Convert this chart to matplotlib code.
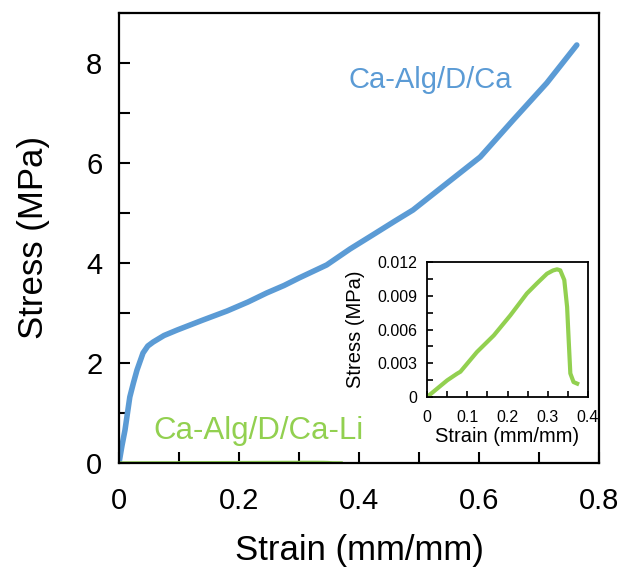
import numpy as np
import matplotlib.pyplot as plt
from matplotlib.ticker import MultipleLocator, FuncFormatter

plt.rcParams['font.family'] = ['Liberation Sans', 'DejaVu Sans']

# Ca-Alg/D/Ca (blue) stress-strain readings
strain_ca = [0.0, 0.005, 0.01, 0.018, 0.024, 0.03, 0.04, 0.048, 0.057, 0.075, 0.097, 0.14,
             0.18, 0.215, 0.246, 0.275, 0.30, 0.346, 0.385, 0.424, 0.46, 0.49, 0.547,
             0.602, 0.657, 0.713, 0.763]
stress_ca = [0.0, 0.35, 0.66, 1.32, 1.6, 1.86, 2.2, 2.34, 2.42, 2.55, 2.66, 2.86,
             3.04, 3.22, 3.4, 3.55, 3.7, 3.96, 4.28, 4.57, 4.84, 5.06, 5.6,
             6.12, 6.86, 7.6, 8.36]

# Ca-Alg/D/Ca-Li (green) stress-strain readings
strain_li = [0.0, 0.05, 0.0745, 0.083, 0.124, 0.166, 0.207, 0.248, 0.273, 0.298, 0.313,
             0.323, 0.331, 0.341, 0.348, 0.352, 0.356, 0.364, 0.373]
stress_li = [0.0, 0.00148, 0.00207, 0.00225, 0.0040, 0.00548, 0.00726, 0.0092, 0.0101,
             0.01096, 0.01125, 0.01135, 0.01126, 0.0104, 0.0080, 0.0050, 0.0021,
             0.00133, 0.00119]

blue = '#5B9BD5'
green = '#92D050'

fig = plt.figure(figsize=(6.3, 5.67), dpi=100)
ax = fig.add_axes([0.1889, 0.1834, 0.7619, 0.7937])
ax.plot(strain_ca, stress_ca, color=blue, lw=4, solid_capstyle='round', solid_joinstyle='round')
ax.plot(strain_li, stress_li, color=green, lw=2.5, solid_capstyle='butt')
ax.set_xlim(0, 0.8)
ax.set_ylim(0, 9)
ax.xaxis.set_major_locator(MultipleLocator(0.1))
ax.yaxis.set_major_locator(MultipleLocator(1))
ax.xaxis.set_major_formatter(FuncFormatter(
    lambda v, p: ('0' if abs(v) < 1e-9 else f'{v:.1f}') if round(v * 10) % 2 == 0 else ''))
ax.yaxis.set_major_formatter(FuncFormatter(
    lambda v, p: f'{int(round(v))}' if round(v) % 2 == 0 and v < 8.5 else ''))
ax.tick_params(direction='in', length=8, width=1.5, labelsize=21, color='black')
ax.tick_params(axis='x', pad=17)
ax.tick_params(axis='y', pad=12)
for s in ax.spines.values():
    s.set_linewidth(1.6)
ax.set_xlabel('Strain (mm/mm)', fontsize=25, labelpad=14)
ax.set_ylabel('Stress (MPa)', fontsize=25, labelpad=26)
ax.text(0.383, 7.65, 'Ca-Alg/D/Ca', color=blue, fontsize=21, va='center', ha='left')
ax.text(0.057, 0.64, 'Ca-Alg/D/Ca-Li', color=green, fontsize=22.5, va='center', ha='left')

ins = fig.add_axes([0.6778, 0.2998, 0.2556, 0.2381])
ins.plot(strain_li, stress_li, color=green, lw=3, solid_joinstyle='round')
ins.set_xlim(0, 0.4)
ins.set_ylim(0, 0.012)
ins.xaxis.set_major_locator(MultipleLocator(0.05))
ins.yaxis.set_major_locator(MultipleLocator(0.0015))
ins.xaxis.set_major_formatter(FuncFormatter(
    lambda v, p: ('0' if abs(v) < 1e-9 else f'{v:.1f}') if round(v * 20) % 2 == 0 else ''))
ins.yaxis.set_major_formatter(FuncFormatter(
    lambda v, p: ('0' if abs(v) < 1e-9 else f'{v:.3f}') if round(v / 0.0015) % 2 == 0 else ''))
ins.tick_params(direction='in', length=4, width=1.2, labelsize=11.5)
ins.tick_params(axis='x', pad=9)
ins.tick_params(axis='y', pad=7)
for s in ins.spines.values():
    s.set_linewidth(1.3)
ins.set_xlabel('Strain (mm/mm)', fontsize=14.5, labelpad=2)
ins.set_ylabel('Stress (MPa)', fontsize=14.5, labelpad=9)

fig.savefig('out.png', dpi=100)
